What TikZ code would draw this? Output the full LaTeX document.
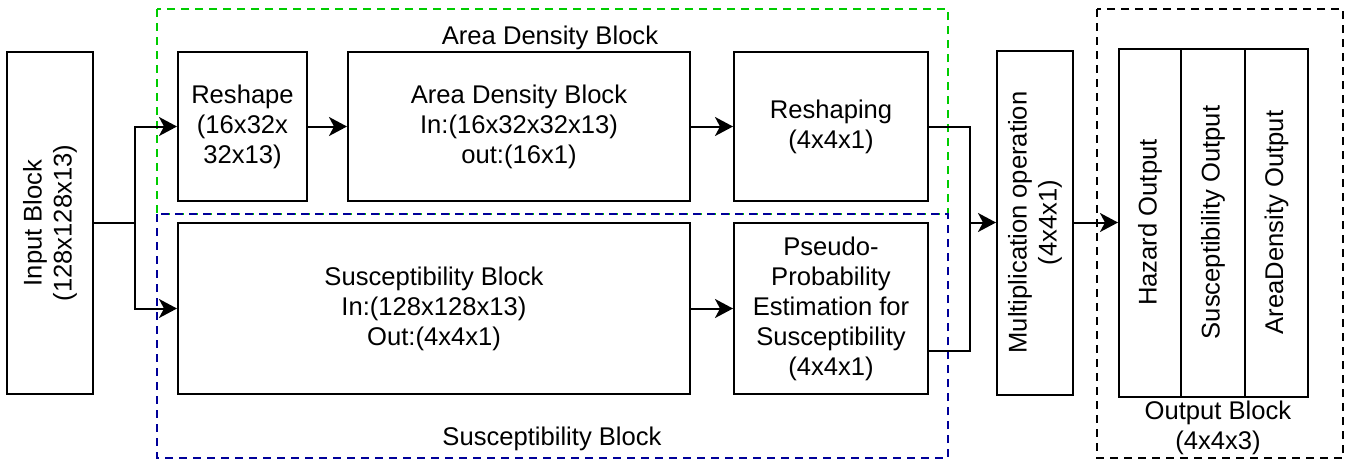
\documentclass[tikz,border=0pt]{standalone}
\usepackage{fontspec}
\setmainfont{Liberation Sans}
\usetikzlibrary{arrows.meta}
\definecolor{adgreen}{RGB}{0,204,0}
\definecolor{susblue}{RGB}{0,0,153}

\begin{document}
\begin{tikzpicture}[
                x=0.5pt, y=-0.5pt,
                every node/.style={font=\fontsize{12.8}{15}\selectfont},
                block/.style={rectangle,draw=black,line width=1pt,align=center,inner sep=0pt},
                frame/.style={line width=0.9pt,dash pattern=on 4pt off 3pt},
                link/.style={line width=1pt},
                >={Stealth[length=9pt,width=9.5pt,inset=2.5pt]},
            ]
            \useasboundingbox (0,0) rectangle (1351,463);

            % Draw frames
            \draw[frame,draw=adgreen] (157,9) rectangle (948,214);
            \draw[frame,draw=susblue] (157,214) rectangle (948,458);
            \draw[frame,draw=black] (1097,9) rectangle (1343,458);
            \node (adlbl) at (550,38) {Area Density Block};
            \node (suslbl) at (552,439) {Susceptibility Block};

            % Define nodes
            \node[block,rotate=90,minimum width=171pt,minimum height=43pt] (in) at (50,223) {Input Block\\(128x128x13)};
            \node[block,minimum width=64.5pt,minimum height=74.5pt] (reshape) at (242.5,126.5) {Reshape\\(16x32x\\32x13)};
            \node[block,minimum width=171pt,minimum height=74.5pt] (adb) at (519,126.5) {Area Density Block\\In:(16x32x32x13)\\out:(16x1)};
            \node[block,minimum width=97pt,minimum height=74.5pt] (reshaping) at (831,126.5) {Reshaping\\(4x4x1)};
            \node[block,minimum width=256pt,minimum height=85.5pt] (susc) at (434,308.5) {Susceptibility Block\\In:(128x128x13)\\Out:(4x4x1)};
            \node[block,minimum width=97pt,minimum height=85.5pt] (pseudo) at (831,308.5) {Pseudo-\\Probability\\Estimation for\\Susceptibility\\(4x4x1)};
            \node[block,rotate=90,minimum width=172pt,minimum height=38pt] (mult) at (1035,222.5) {Multiplication operation\\(4x4x1)};
            \node[block,rotate=90,minimum width=174pt,minimum height=31pt] (out1) at (1150,222.5) {Hazard Output};
            \node[block,rotate=90,minimum width=174pt,minimum height=32pt] (out2) at (1213,222.5) {Susceptibility Output};
            \node[block,rotate=90,minimum width=174pt,minimum height=31.5pt] (out3) at (1276.5,222.5) {AreaDensity Output};
            \node[align=center] (outlbl) at (1218,428) {Output Block\\(4x4x3)};

            % Draw connections
            \coordinate (split) at (135,223);
            \coordinate (merge) at (970,222.5);
            \draw[link] (in.south) -- (split);
            \draw[link,->] (split) |- (reshape.west);
            \draw[link,->] (split) |- (susc.west);
            \draw[link,->] (reshape) -- (adb);
            \draw[link,->] (adb) -- (reshaping);
            \draw[link,->] (susc) -- (pseudo);
            \draw[link] (reshaping.east) -| (merge);
            \draw[link] ([yshift=-21.25pt]pseudo.east) -| (merge);
            \draw[link,->] (merge) -- (mult.north);
            \draw[link,->] (mult.south) -- (out1.north);

            \end{tikzpicture}
\end{document}
